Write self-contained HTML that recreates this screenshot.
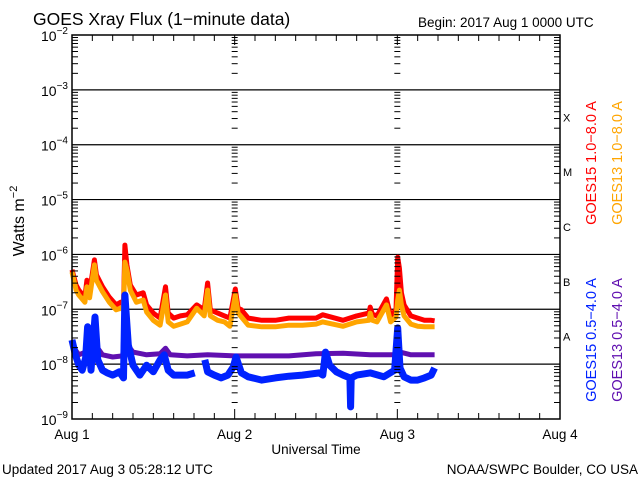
<!DOCTYPE html>
<html><head><meta charset="utf-8"><style>
html,body{margin:0;padding:0;background:#fff}
svg{display:block}
text{font-family:"Liberation Sans","DejaVu Sans",sans-serif}
</style></head><body>
<svg id="chart" width="640" height="480" viewBox="0 0 640 480" xmlns="http://www.w3.org/2000/svg">
<rect x="0" y="0" width="640" height="480" fill="#fff"/>
<text x="33" y="25" font-size="17.5" fill="#000">GOES Xray Flux (1−minute data)</text>
<text x="418" y="27" font-size="13.5" fill="#000">Begin:  2017 Aug 1 0000 UTC</text>
<text transform="translate(24,221) rotate(-90)" text-anchor="middle" font-size="16" fill="#000">Watts m<tspan font-size="11" dy="-7">−2</tspan></text>
<text x="316" y="454" text-anchor="middle" font-size="13.5" fill="#000">Universal Time</text>
<text x="2" y="474" font-size="13.5" fill="#000">Updated 2017 Aug  3 05:28:12 UTC</text>
<text x="638" y="474" text-anchor="end" font-size="13.5" fill="#000">NOAA/SWPC Boulder, CO USA</text>
<g id="grid"></g>
<g id="series"></g>
<g id="axes"></g>
<text transform="translate(596,163) rotate(-90)" text-anchor="middle" font-size="14.5" fill="#ff0000">GOES15 1.0−8.0 A</text>
<text transform="translate(622,163) rotate(-90)" text-anchor="middle" font-size="14.5" fill="#ffa500">GOES13 1.0−8.0 A</text>
<text transform="translate(596,340) rotate(-90)" text-anchor="middle" font-size="14.5" fill="#0022ff">GOES15 0.5−4.0 A</text>
<text transform="translate(622,340) rotate(-90)" text-anchor="middle" font-size="14.5" fill="#6010b0">GOES13 0.5−4.0 A</text>
</svg>
<script>
// ---- data (time in hours since 2017-08-01 00:00 UTC, values = log10 W/m^2) ----
const longTimes = [0,0.6,1,1.9,2.2,2.6,3.3,3.6,4.5,5.5,6.5,7.2,7.6,7.8,8.1,8.6,9.5,10.5,11,12,13,13.8,14.2,15,16,17,18.4,19.5,20,20.4,21.5,22.5,23.3,24.1,24.5,25,26,28,30,32,34,36,37,40,42,43.8,44,44.3,45,46.4,47,47.8,48.05,48.3,48.6,49,50,51,52,53,53.5];
const goes15Long = [-6.28,-6.56,-6.65,-6.78,-6.47,-6.68,-6.10,-6.37,-6.59,-6.78,-6.92,-6.87,-6.92,-5.83,-6.19,-6.56,-6.74,-6.70,-6.92,-7.07,-7.16,-6.59,-7.07,-7.16,-7.12,-7.10,-6.92,-7.01,-6.52,-7.01,-7.07,-7.12,-7.16,-6.63,-6.98,-7.01,-7.16,-7.20,-7.20,-7.16,-7.16,-7.16,-7.10,-7.20,-7.12,-7.07,-6.96,-7.09,-7.12,-6.81,-7.12,-7.01,-6.05,-6.25,-6.70,-6.92,-7.12,-7.16,-7.20,-7.20,-7.21];
const goes13Long = [-6.32,-6.65,-6.74,-6.87,-6.59,-6.79,-6.19,-6.47,-6.68,-6.87,-7.01,-6.98,-7.01,-6.14,-6.28,-6.65,-6.87,-6.83,-7.05,-7.20,-7.29,-6.74,-7.23,-7.31,-7.27,-7.23,-6.98,-7.12,-6.65,-7.12,-7.20,-7.23,-7.31,-6.74,-7.07,-7.14,-7.29,-7.32,-7.32,-7.29,-7.29,-7.27,-7.23,-7.31,-7.23,-7.20,-7.07,-7.20,-7.23,-6.92,-7.23,-7.14,-6.83,-6.65,-6.92,-7.12,-7.27,-7.31,-7.32,-7.32,-7.32];
const g13ShortTimes = [0,0.5,1,2,2.4,2.7,3.4,3.8,4.5,6,7.5,7.8,8.2,9,11,13,13.8,14.5,17,20,24,28,32,36,40,44,48,48.1,48.4,50,53.5];
const goes13Short = [-7.56,-7.74,-7.83,-7.78,-7.32,-7.71,-7.38,-7.71,-7.83,-7.87,-7.85,-7.07,-7.65,-7.78,-7.83,-7.81,-7.71,-7.83,-7.85,-7.83,-7.85,-7.85,-7.85,-7.81,-7.80,-7.83,-7.83,-7.47,-7.78,-7.83,-7.83];
const g15ShortTimes = [0,0.5,1,1.5,2,2.3,2.8,3.4,3.8,4.5,5.2,6,7,7.6,7.8,8.3,9,10,11,12,13,13.6,14.2,15,17,18.1,18.2,19.6,20,21,22,23,23.8,24.2,25,26,28,30,32,34,36.5,37,37.4,38,39,40,41,41.1,41.2,42,44,46,47.6,48.05,48.4,49,50,51,52,53,53.5];
const goes15Short = [-7.56,-7.83,-8.02,-8.11,-7.89,-7.32,-8.11,-7.14,-7.92,-8.11,-8.16,-8.20,-8.14,-8.25,-6.74,-7.65,-8.02,-8.20,-8.02,-8.14,-7.92,-7.83,-8.11,-8.20,-8.20,-8.16,null,-7.92,-8.14,-8.20,-8.25,-8.20,-8.05,-7.87,-8.16,-8.23,-8.29,-8.25,-8.22,-8.20,-8.16,-8.20,-7.78,-8.02,-8.14,-8.20,-8.25,-8.78,-8.25,-8.20,-8.16,-8.23,-8.11,-7.34,-8.07,-8.23,-8.29,-8.29,-8.25,-8.20,-8.07];
const decadeLabels = ["-2","-3","-4","-5","-6","-7","-8","-9"];
const dayLabels = ["Aug 1","Aug 2","Aug 3","Aug 4"];
const classLabels = ["X","M","C","B","A"];

// ---- scales ----
const X0=72, X1=560, Y0=35, Y1=419;
const LOGMAX=-2, LOGMIN=-9;
const xs = h => X0 + (h/72)*(X1-X0);
const ys = l => Y0 + (LOGMAX-l)/(LOGMAX-LOGMIN)*(Y1-Y0);
const NS="http://www.w3.org/2000/svg";
function mk(tag, parent){const e=document.createElementNS(NS,tag);parent.appendChild(e);return e;}
const grid=document.getElementById('grid'), axes=document.getElementById('axes'), ser=document.getElementById('series');

for(let d=-3; d>=-8; d--){
  const ln=mk('line',grid);
  
  
  ln.setAttribute('x1',X0);ln.setAttribute('x2',X1);ln.setAttribute('y1',ys(d));ln.setAttribute('y2',ys(d));
  ln.setAttribute('stroke','#000');ln.setAttribute('stroke-width','1.2');
}
const fr=mk('rect',axes);


fr.setAttribute('x',X0);fr.setAttribute('y',Y0);fr.setAttribute('width',X1-X0);fr.setAttribute('height',Y1-Y0);
fr.setAttribute('fill','none');fr.setAttribute('stroke','#000');fr.setAttribute('stroke-width','1.5');

function tick(x1,y1,x2,y2,name){
  const t=mk('line',axes);
  
  
  t.setAttribute('x1',x1);t.setAttribute('y1',y1);t.setAttribute('x2',x2);t.setAttribute('y2',y2);
  t.setAttribute('stroke','#000');t.setAttribute('stroke-width','1');
}
const cols=[[X0,1,6],[X1,-1,6],[xs(24)-3,1,6],[xs(48)-3,1,6]];
for(let d=-9; d<-2; d++){
  for(let m=2;m<=9;m++){
    const y=ys(d+Math.log10(m));
    cols.forEach(([x,s,l])=>tick(x,y,x+s*l,y,'y-minor-tick'));
  }
}
for(let h=3; h<72; h+=3){
  const len = h%24===0 ? 10 : 6;
  tick(xs(h),Y1,xs(h),Y1-len,'x-tick');
  tick(xs(h),Y0,xs(h),Y0+len,'x-tick');
}
decadeLabels.forEach((lab,i)=>{
  const y=ys(-2-i);
  const t=mk('text',axes);
  
  
  t.setAttribute('x',X0-4);t.setAttribute('y',y+6);t.setAttribute('text-anchor','end');
  t.setAttribute('font-size','14');
  t.innerHTML='10<tspan font-size="10" dy="-7">'+lab.replace('-','−')+'</tspan>';
});
dayLabels.forEach((lab,i)=>{
  const t=mk('text',axes);
  
  
  t.setAttribute('x',xs(i*24));t.setAttribute('y',439);t.setAttribute('text-anchor','middle');
  t.setAttribute('font-size','13.5');
  t.textContent=lab;
});
classLabels.forEach((lab,i)=>{
  const t=mk('text',axes);
  
  
  t.setAttribute('x',563);t.setAttribute('y',ys(-3.5-i)+4);
  t.setAttribute('font-size','11');t.setAttribute('font-family','"Liberation Serif",serif');
  t.textContent=lab;
});
function drawSeries(times, vals, color, width, name){
  let d='', pen=false;
  times.forEach((h,i)=>{
    const v=vals[i];
    if(v===null){pen=false;return;}
    d += (pen?'L':'M') + xs(h).toFixed(1) + ' ' + ys(v).toFixed(1) + ' ';
    pen=true;
  });
  const p=mk('path',ser);
  
  
  p.setAttribute('d',d);p.setAttribute('fill','none');p.setAttribute('stroke',color);
  p.setAttribute('stroke-width',width);p.setAttribute('stroke-linejoin','round');
}
drawSeries(longTimes, goes15Long, '#ff0000', 5, 'series-goes15-long');
drawSeries(longTimes, goes13Long, '#ffa500', 5, 'series-goes13-long');
drawSeries(g13ShortTimes, goes13Short, '#6010b0', 5, 'series-goes13-short');
drawSeries(g15ShortTimes, goes15Short, '#0022ff', 7, 'series-goes15-short');
</script>
</body></html>
